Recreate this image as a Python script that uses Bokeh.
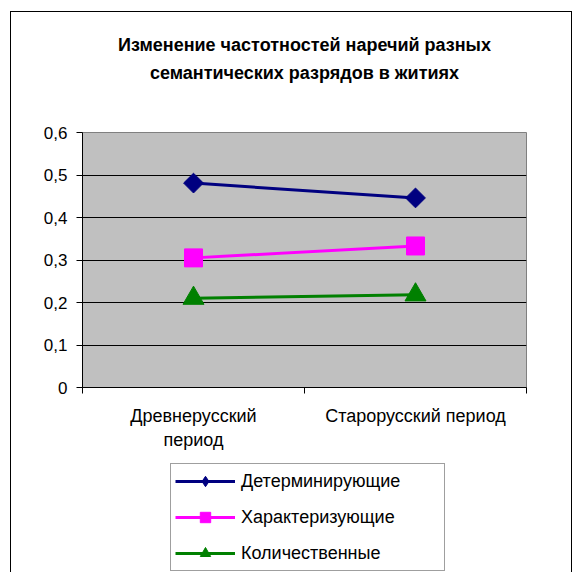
import numpy as np
from bokeh.plotting import figure
from bokeh.layouts import column
from bokeh.models import (Range1d, FixedTicker, CustomJSTickFormatter, Legend,
                          LegendItem, Title, LinearAxis)
from bokeh.embed import file_html
from bokeh.resources import INLINE

# ---- data ----
title_lines = ["Изменение частотностей наречий разных",
               "семантических разрядов в житиях"]
periods = ["Древнерусский\nпериод", "Старорусский период"]
period_pos = [0.5, 1.5]
y_ticks = [0, 0.1, 0.2, 0.3, 0.4, 0.5, 0.6]
series_names = ["Детерминирующие", "Характеризующие", "Количественные"]
determ = [0.481, 0.446]
charact = [0.305, 0.333]
quant = [0.210, 0.218]

FONT = "Liberation Sans"
colors = ["#000080", "#FF00FF", "#008000"]
series = [determ, charact, quant]

# ---------------- main chart ----------------
p = figure(width=560, height=451, output_backend="svg", toolbar_location=None,
           x_range=Range1d(0, 2), y_range=Range1d(0, 0.6),
           min_border_left=71, min_border_right=45,
           min_border_top=120, min_border_bottom=76)
xa = p.below[0]      # the category axis at the bottom
ya = p.left[0]

p.title.text = ""
# second title line carried by a tick-less axis above the frame
title_axis = LinearAxis(ticker=FixedTicker(ticks=[], minor_ticks=[]),
                        axis_label=title_lines[1],
                        axis_label_standoff=50, axis_label_text_font=FONT,
                        axis_label_text_font_size="18px",
                        axis_label_text_font_style="bold",
                        axis_label_text_color="black",
                        axis_line_color=None, major_tick_line_color=None,
                        minor_tick_line_color=None, major_tick_out=0,
                        minor_tick_out=0, major_label_text_font_size="0px")
p.add_layout(title_axis, "above")
p.add_layout(Title(text=title_lines[0], align="center", text_font=FONT,
                   text_font_size="18px", text_font_style="bold",
                   text_color="black", standoff=9), "above")

p.background_fill_color = "#C0C0C0"
p.border_fill_color = "white"
p.outline_line_color = "#808080"
p.outline_line_width = 1

p.xgrid.visible = False
p.ygrid.ticker = FixedTicker(ticks=y_ticks)
p.ygrid.grid_line_color = "black"
p.ygrid.grid_line_width = 1

ya.ticker = FixedTicker(ticks=y_ticks, minor_ticks=[])
ya.formatter = CustomJSTickFormatter(
    code="return tick == 0 ? '0' : tick.toFixed(1).replace('.', ',');")
ya.major_tick_out = 6
ya.major_tick_in = 0
ya.minor_tick_out = 0
ya.axis_line_color = "black"
ya.major_tick_line_color = "black"
ya.major_label_standoff = 9
ya.major_label_text_font = FONT
ya.major_label_text_font_size = "17px"
ya.major_label_text_color = "black"

xa.ticker = FixedTicker(ticks=period_pos, minor_ticks=[0, 1, 2])
xa.major_label_overrides = {pos: lab for pos, lab in zip(period_pos, periods)}
xa.major_tick_out = 0
xa.major_tick_in = 0
xa.minor_tick_out = 6
xa.minor_tick_in = 0
xa.minor_tick_line_color = "black"
xa.axis_line_color = "black"
xa.major_label_standoff = 12
xa.major_label_text_font = FONT
xa.major_label_text_font_size = "18px"
xa.major_label_text_color = "black"

main_markers = [("square", np.pi / 4, 14), ("square", 0, 18), ("triangle", 0, 21)]
for vals, col, (mk, ang, sz) in zip(series, colors, main_markers):
    p.line(period_pos, vals, line_color=col, line_width=3)
    p.scatter(period_pos, vals, marker=mk, angle=ang, size=sz,
              fill_color=col, line_color=col)

# ---------------- legend strip ----------------
q = figure(width=560, height=109, output_backend="svg", toolbar_location=None,
           x_range=Range1d(0, 2), y_range=Range1d(10, 11),
           x_axis_type=None, y_axis_type=None,
           min_border_left=0, min_border_right=0,
           min_border_top=0, min_border_bottom=0)
q.grid.visible = False
q.outline_line_color = None
q.background_fill_color = "white"
q.border_fill_color = "white"

legend_markers = ["diamond", "square", "triangle"]
items = []
for name, vals, col, mk in zip(series_names, series, colors, legend_markers):
    ln = q.line(period_pos, vals, line_color=col, line_width=3)
    sc = q.scatter(period_pos, vals, marker=mk, size=10,
                   fill_color=col, line_color=col)
    items.append(LegendItem(label=name, renderers=[ln, sc]))

legend = Legend(items=items, location=(88, 1), margin=0, padding=4,
                glyph_width=60, glyph_height=26, spacing=10, label_standoff=6,
                label_width=199, label_height=26, label_text_font=FONT,
                label_text_font_size="18px", label_text_color="black",
                border_line_color="#404040", border_line_width=1,
                background_fill_color="white", background_fill_alpha=1)
q.add_layout(legend, "center")

layout = column(p, q, spacing=0)
layout.margin = (11, 0, 0, 10)
layout.styles = {"border": "1px solid black", "border-bottom": "none"}

open("out.html", "w").write(file_html(layout, INLINE))
